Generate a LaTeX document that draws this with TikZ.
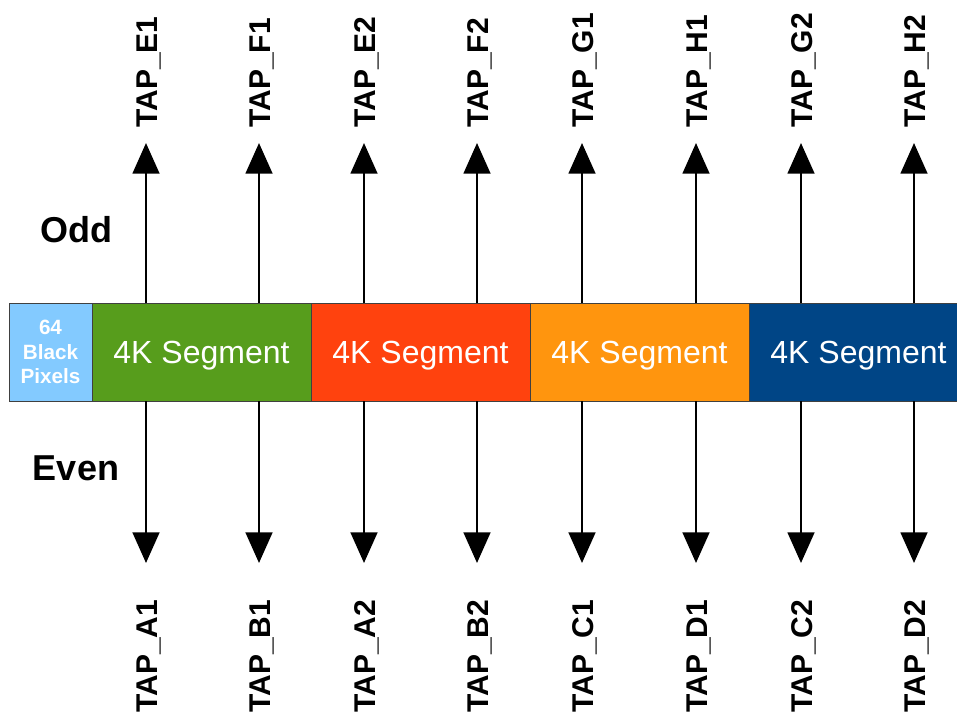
\documentclass[tikz,border=0pt]{standalone}
\usepackage{fontspec}
\setmainfont{Liberation Sans}
\usetikzlibrary{positioning,arrows.meta}
\definecolor{pixblue}{HTML}{83CAFF}
\definecolor{seggreen}{HTML}{579D1C}
\definecolor{segred}{HTML}{FF420E}
\definecolor{segorange}{HTML}{FF950E}
\definecolor{segblue}{HTML}{004586}
\begin{document}
\begin{tikzpicture} [
        x=0.75pt, y=-0.75pt,
        block/.style={draw=black!75, rectangle, thin, outer sep=0pt, inner sep=0pt,
            minimum height=73.5pt, text=white},
        segment/.style={block, minimum width=164.25pt, text depth=0pt,
            font=\fontsize{24}{28}\selectfont},
        taplbl/.style={rotate=90, inner sep=0pt, font=\fontsize{22.5}{26}\selectfont\bfseries},
        side/.style={anchor=base, font=\fontsize{27}{32}\selectfont\bfseries},
        tap/.style={line width=2pt, -{Triangle[width=20pt, length=23pt]}} ]
    \useasboundingbox (0,0) rectangle (957,715);
    \node[block, fill=pixblue, minimum width=62.25pt, anchor=north west, align=center,
        font=\fontsize{15.5}{18.4}\selectfont\bfseries] (blk) at (9,303) {64\\Black\\Pixels};
    \node[segment, fill=seggreen, right=0pt of blk] (seg1) {4K Segment};
    \node[segment, fill=segred, right=0pt of seg1] (seg2) {4K Segment};
    \node[segment, fill=segorange, right=0pt of seg2] (seg3) {4K Segment};
    \node[segment, fill=segblue, right=0pt of seg3] (seg4) {4K Segment};
    \node[side] (odd) at (76,242) {Odd};
    \node[side] (even) at (76,480) {Even};
    \foreach \x/\seg/\up/\dn in {146/seg1/E1/A1, 259/seg1/F1/B1, 364/seg2/E2/A2, 477/seg2/F2/B2,
            582/seg3/G1/C1, 696/seg3/H1/D1, 801/seg4/G2/C2, 914/seg4/H2/D2} {
        \node[taplbl, anchor=base west] (t\up) at (\x+11,128) {TAP\_\up};
        \node[taplbl, anchor=base west] (t\dn) at (\x+11,713) {TAP\_\dn};
        \coordinate (u\up) at (\x,143);
        \coordinate (d\dn) at (\x,563);
        \draw[tap] (\seg.north -| u\up) -- (u\up);
        \draw[tap] (\seg.south -| d\dn) -- (d\dn);
    }
\end{tikzpicture}
\end{document}
